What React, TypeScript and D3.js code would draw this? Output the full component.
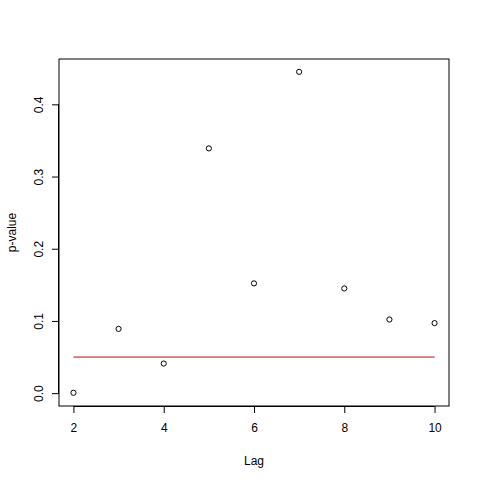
import React, { useEffect, useRef } from 'react';
import * as d3 from 'd3';

const lags = [2, 3, 4, 5, 6, 7, 8, 9, 10];
const pValues = [0.0005, 0.089, 0.041, 0.339, 0.152, 0.445, 0.145, 0.102, 0.097];
const xTicks = [2, 4, 6, 8, 10];
const yTicks = [0, 0.1, 0.2, 0.3, 0.4];
const cutoff = 0.05;

export default function App() {
  const ref = useRef<SVGSVGElement>(null);

  useEffect(() => {
    const svg = d3.select(ref.current);
    svg.selectAll('*').remove();

    const box = { left: 59, right: 449, top: 59, bottom: 406 };
    const font = 'Liberation Sans, Arial, sans-serif';

    // R style 4% padding
    const pad = (lo: number, hi: number) => {
      const d = (hi - lo) * 0.04;
      return [lo - d, hi + d];
    };
    const x = d3
      .scaleLinear()
      .domain(pad(d3.min(lags)!, d3.max(lags)!))
      .range([box.left, box.right]);
    const y = d3
      .scaleLinear()
      .domain(pad(0, d3.max(pValues)!))
      .range([box.bottom, box.top]);

    svg
      .append('rect')
      .attr('x', box.left)
      .attr('y', box.top)
      .attr('width', box.right - box.left)
      .attr('height', box.bottom - box.top)
      .attr('fill', 'none')
      .attr('stroke', 'black')
      .attr('stroke-width', 1);

    // x axis
    const xa = svg
      .append('g')
      .attr('transform', `translate(0,${box.bottom})`)
      .call(d3.axisBottom(x).tickValues(xTicks).tickSize(7).tickPadding(10).tickFormat(d3.format('d')));
    xa.select('.domain')
      .attr('d', `M${x(2)},0.5H${x(10)}`)
      .attr('stroke', 'black');
    xa.selectAll('text').attr('font-size', 12).attr('font-family', font).attr('fill', '#000');

    // y axis
    const ya = svg
      .append('g')
      .attr('transform', `translate(${box.left},0)`)
      .call(d3.axisLeft(y).tickValues(yTicks).tickSize(7).tickFormat(d3.format('.1f')));
    ya.select('.domain').attr('d', `M-0.5,${y(0)}V${y(0.4)}`).attr('stroke', 'black');
    ya.selectAll('.tick text')
      .attr('x', 0)
      .attr('dy', 0)
      .attr('transform', 'translate(-16,0) rotate(-90)')
      .attr('text-anchor', 'middle')
      .attr('font-size', 12)
      .attr('font-family', font)
      .attr('fill', '#000');

    // threshold line
    svg
      .append('line')
      .attr('x1', x(d3.min(lags)!))
      .attr('x2', x(d3.max(lags)!))
      .attr('y1', y(cutoff))
      .attr('y2', y(cutoff))
      .attr('stroke', '#d40000')
      .attr('stroke-width', 1);

    // points
    svg
      .append('g')
      .selectAll('circle')
      .data(lags)
      .join('circle')
      .attr('cx', (d) => x(d))
      .attr('cy', (d, i) => y(pValues[i]))
      .attr('r', 2.6)
      .attr('fill', 'none')
      .attr('stroke', 'black')
      .attr('stroke-width', 1);

    // axis titles
    svg
      .append('text')
      .attr('x', (box.left + box.right) / 2)
      .attr('y', 465)
      .attr('text-anchor', 'middle')
      .attr('font-size', 12)
      .attr('font-family', font)
      .text('Lag');
    svg
      .append('text')
      .attr('transform', `translate(16,${(box.top + box.bottom) / 2}) rotate(-90)`)
      .attr('text-anchor', 'middle')
      .attr('font-size', 12)
      .attr('font-family', font)
      .text('p-value');
  }, []);

  return (
    <svg
      ref={ref}
      width={480}
      height={480}
      style={{ position: 'absolute', left: 0, top: 0, background: 'white' }}
    />
  );
}
